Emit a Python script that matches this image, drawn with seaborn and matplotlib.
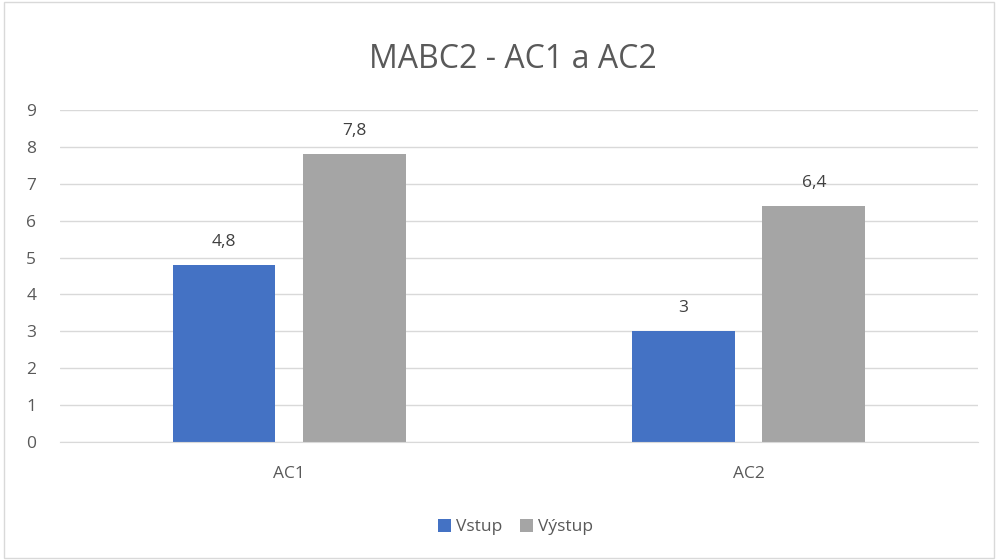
import matplotlib

matplotlib.use("Agg")
import matplotlib.pyplot as plt
import pandas as pd
import seaborn as sns
from matplotlib.patches import Rectangle

categories = ["AC1", "AC2"]
series_names = ["Vstup", "Výstup"]
vstup = [4.8, 3.0]
vystup = [7.8, 6.4]
colors = ["#4472C4", "#A5A5A5"]

df = pd.DataFrame({
    "kategorie": categories * 2,
    "serie": [series_names[0]] * 2 + [series_names[1]] * 2,
    "hodnota": vstup + vystup,
})

sns.set_style("white")
plt.rcParams["font.family"] = ["Open Sans", "DejaVu Sans"]

fig = plt.figure(figsize=(9.98, 5.6), dpi=100)
ax = fig.add_axes([0.060, 0.2107, 0.920, 0.5929])

sns.barplot(data=df, x="kategorie", y="hodnota", hue="serie", palette=colors,
            width=0.57, gap=0.214, saturation=1, linewidth=0, ax=ax, legend=True)

ax.set_ylim(0, 9)
ax.set_yticks(range(0, 10))
ax.grid(axis="y", color="#D9D9D9", linewidth=1)
ax.set_axisbelow(True)
for side in ["top", "right", "left"]:
    ax.spines[side].set_visible(False)
ax.spines["bottom"].set_color("#D9D9D9")
ax.tick_params(axis="both", length=0, labelsize=12.5, colors="#595959")
ax.tick_params(axis="x", pad=17)
ax.tick_params(axis="y", pad=17)
ax.set_xlabel("")
ax.set_ylabel("")

for cont in ax.containers:
    labels = [f"{v:g}".replace(".", ",") for v in cont.datavalues]
    ax.bar_label(cont, labels=labels, padding=11, fontsize=12.5, color="#404040")

fig.text(512.5 / 998, 1 - 60 / 560, "MABC2 - AC1 a AC2", fontsize=23, color="#595959",
         ha="center", va="center")

handles, lbls = ax.get_legend_handles_labels()
ax.get_legend().remove()
leg = fig.legend(handles, lbls, loc="center", bbox_to_anchor=(515.5 / 998, 1 - 527 / 560),
                 ncol=2, frameon=False, fontsize=12.5, handlelength=0.75, handleheight=0.75,
                 handletextpad=0.3, columnspacing=1.0)
for t in leg.get_texts():
    t.set_color("#595959")

fig.patches.append(Rectangle((0.004, 0.004), 0.992, 0.992, transform=fig.transFigure,
                             fill=False, edgecolor="#D9D9D9", linewidth=1))

fig.savefig("out.png", dpi=100)
